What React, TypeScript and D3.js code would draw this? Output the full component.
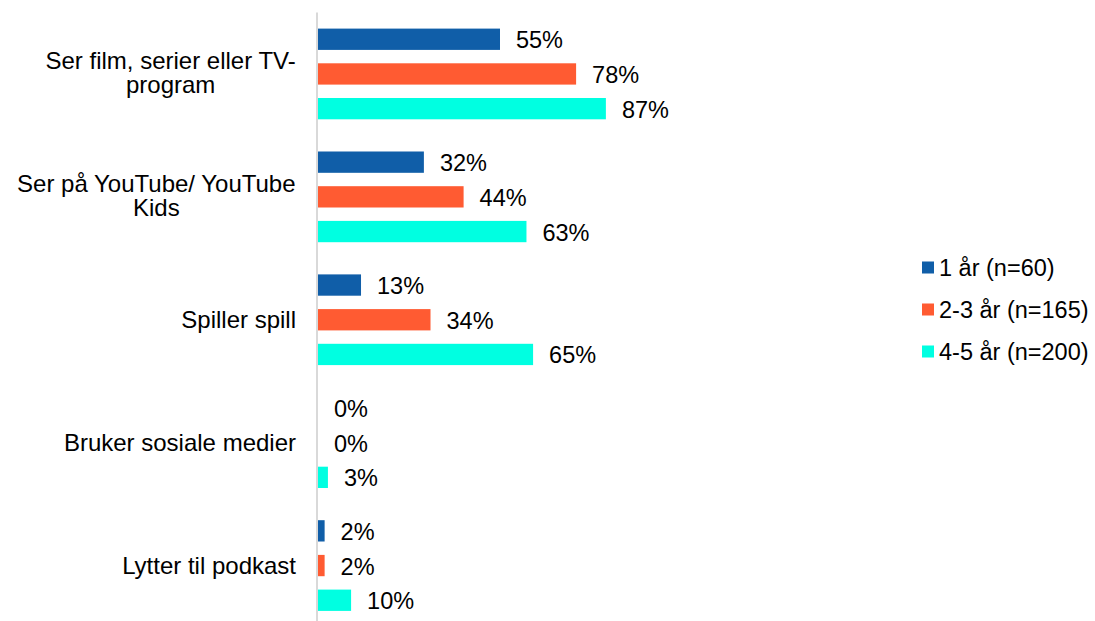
import React from "react";
import * as d3 from "d3";

const categories = [
  "Ser film, serier eller TV-\nprogram",
  "Ser på YouTube/ YouTube\nKids",
  "Spiller spill",
  "Bruker sosiale medier",
  "Lytter til podkast",
];
const seriesNames = ["1 år (n=60)", "2-3 år (n=165)", "4-5 år (n=200)"];
const seriesColors = ["#105ea8", "#ff5b32", "#00ffe1"];
const oneYear = [55, 32, 13, 0, 2];
const twoThreeYears = [78, 44, 34, 0, 2];
const fourFiveYears = [87, 63, 65, 3, 10];
const seriesValues = [oneYear, twoThreeYears, fourFiveYears];

const W = 1095;
const H = 621;
const FONT = "'Liberation Sans', Arial, sans-serif";

function measure(text: string, size: number): number {
  const c = document.createElement("canvas").getContext("2d");
  if (!c) return text.length * size * 0.5;
  c.font = `${size}px "Liberation Sans", Arial, sans-serif`;
  return c.measureText(text).width;
}

export default function App() {
  const x = d3.scaleLinear().domain([0, 100]).range([318, 648.9]);
  const y = d3.scaleBand<string>().domain(categories).range([12.5, 627]).paddingInner(0).paddingOuter(0);
  const inner = d3
    .scaleBand<string>()
    .domain(seriesNames)
    .range([-52.05, 52.05])
    .paddingInner(0.386)
    .paddingOuter(0.193);

  const catSize = 24;
  const labelSize = 23.5;
  const legendSize = 23.5;
  const labelRight = 296;
  const lineH = 24.5;

  return (
    <div style={{ position: "absolute", left: 0, top: 0 }}>
      <svg width={W} height={H} style={{ display: "block", background: "#fff" }} fontFamily={FONT}>
        <rect x={0} y={0} width={W} height={H} fill="#fff" />
        {categories.map((cat, ci) => {
          const cy = (y(cat) as number) + y.bandwidth() / 2;
          const lines = cat.split("\n");
          if (lines.length === 1) {
            return (
              <text key={cat} x={labelRight} y={cy + 8} textAnchor="end" fontSize={catSize} fill="#000">
                {lines[0]}
              </text>
            );
          }
          const maxW = Math.max(...lines.map((l) => measure(l, catSize)));
          const mid = labelRight - maxW / 2;
          const first = cy + 7 - ((lines.length - 1) * lineH) / 2;
          return (
            <text key={cat} textAnchor="middle" fontSize={catSize} fill="#000">
              {lines.map((l, li) => (
                <tspan key={li} x={mid} y={first + li * lineH}>
                  {l}
                </tspan>
              ))}
            </text>
          );
        })}
        {seriesNames.map((s, si) =>
          categories.map((cat, ci) => {
            const v = seriesValues[si][ci];
            const cy = (y(cat) as number) + y.bandwidth() / 2;
            const by = cy + (inner(s) as number);
            const bh = inner.bandwidth();
            return (
              <g key={s + cat}>
                {v > 0 && (
                  <rect x={x(0)} y={by} width={x(v) - x(0)} height={bh} fill={seriesColors[si]} />
                )}
                <text x={x(v) + 16} y={by + bh / 2 + 9} fontSize={labelSize} fill="#000">
                  {`${v}%`}
                </text>
              </g>
            );
          })
        )}
        <line x1={317} x2={317} y1={12.5} y2={H} stroke="#d9d9d9" strokeWidth={2} />
        {seriesNames.map((s, si) => {
          const cy = 267.5 + si * 42;
          return (
            <g key={s}>
              <rect x={922} y={cy - 6} width={12} height={12} fill={seriesColors[si]} />
              <text x={939} y={cy + 8} fontSize={legendSize} fill="#000">
                {s}
              </text>
            </g>
          );
        })}
      </svg>
    </div>
  );
}
